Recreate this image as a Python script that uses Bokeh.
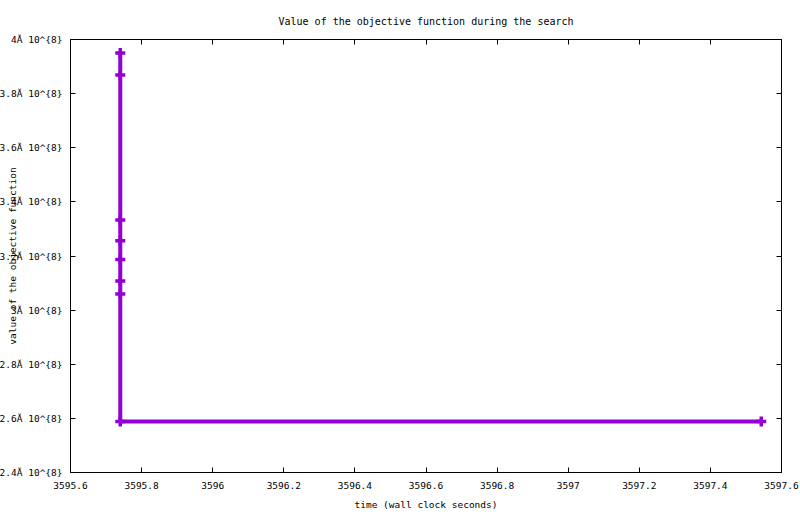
from bokeh.plotting import figure
from bokeh.models import FixedTicker, LinearAxis, Range1d
from bokeh.embed import file_html
from bokeh.resources import INLINE

# ---- data ----
times = [3595.74, 3595.74, 3595.74, 3595.74, 3595.74, 3595.74, 3595.74, 3595.74, 3597.543]
values = [3.9505e8, 3.869e8, 3.333e8, 3.256e8, 3.187e8, 3.108e8, 3.060e8, 2.588e8, 2.588e8]

x_ticks = [3595.6, 3595.8, 3596.0, 3596.2, 3596.4, 3596.6, 3596.8, 3597.0, 3597.2, 3597.4, 3597.6]
x_tick_labels = ["3595.6", "3595.8", "3596", "3596.2", "3596.4", "3596.6", "3596.8",
                 "3597", "3597.2", "3597.4", "3597.6"]
y_ticks = [2.4e8, 2.6e8, 2.8e8, 3.0e8, 3.2e8, 3.4e8, 3.6e8, 3.8e8, 4.0e8]
y_tick_labels = ["2.4Ă 10^{8}", "2.6Ă 10^{8}", "2.8Ă 10^{8}", "3Ă 10^{8}", "3.2Ă 10^{8}",
                 "3.4Ă 10^{8}", "3.6Ă 10^{8}", "3.8Ă 10^{8}", "4Ă 10^{8}"]

title_text = "Value of the objective function during the search"
x_label = "time (wall clock seconds)"
y_label = "value of the objective function"

FONT = "DejaVu Sans Mono"
FS = "9.5px"
COLOR = "#9400D3"

p = figure(width=800, height=514, output_backend="svg", toolbar_location=None,
           x_range=Range1d(3595.6, 3597.6), y_range=Range1d(2.4e8, 4.0e8),
           min_border_left=70, min_border_right=19, min_border_top=39, min_border_bottom=42)
p.background_fill_color = "white"
p.border_fill_color = "white"
p.outline_line_color = "black"
p.outline_line_width = 1
p.grid.visible = False

p.title.text = title_text
p.title.align = "center"
p.title.text_font = FONT
p.title.text_font_size = "10px"
p.title.text_font_style = "normal"
p.title.text_color = "black"
p.title.standoff = 26

# line with plus markers
p.line(times, values, line_color=COLOR, line_width=4)
p.scatter(times, values, marker="cross", size=10, line_color=COLOR, line_width=3.5)

def style_axis(ax, ticks, overrides):
    ax.ticker = FixedTicker(ticks=ticks)
    ax.major_label_overrides = overrides
    ax.major_tick_in = 5
    ax.major_tick_out = 0
    ax.minor_tick_in = 0
    ax.minor_tick_out = 0
    ax.axis_line_color = None
    ax.major_tick_line_color = "black"
    ax.major_label_text_font = FONT
    ax.major_label_text_font_size = FS
    ax.major_label_text_color = "black"
    ax.axis_label_text_font = FONT
    ax.axis_label_text_font_size = FS
    ax.axis_label_text_font_style = "normal"
    ax.axis_label_text_color = "black"

# bottom axis
xa = p.xaxis[0]
style_axis(xa, x_ticks, {t: s for t, s in zip(x_ticks, x_tick_labels)})
xa.major_label_standoff = 9
xa.axis_label = x_label
xa.axis_label_standoff = 7

# left axis
ya = p.yaxis[0]
style_axis(ya, y_ticks, {t: s for t, s in zip(y_ticks, y_tick_labels)})
ya.major_label_standoff = 8
ya.axis_label = y_label
ya.axis_label_standoff = -21

# mirror axes (ticks only)
top = LinearAxis()
style_axis(top, x_ticks, {t: "" for t in x_ticks})
top.major_label_standoff = 0
p.add_layout(top, "above")
right = LinearAxis()
style_axis(right, y_ticks, {t: "" for t in y_ticks})
right.major_label_standoff = 0
p.add_layout(right, "right")

open("out.html", "w").write(file_html(p, INLINE))
